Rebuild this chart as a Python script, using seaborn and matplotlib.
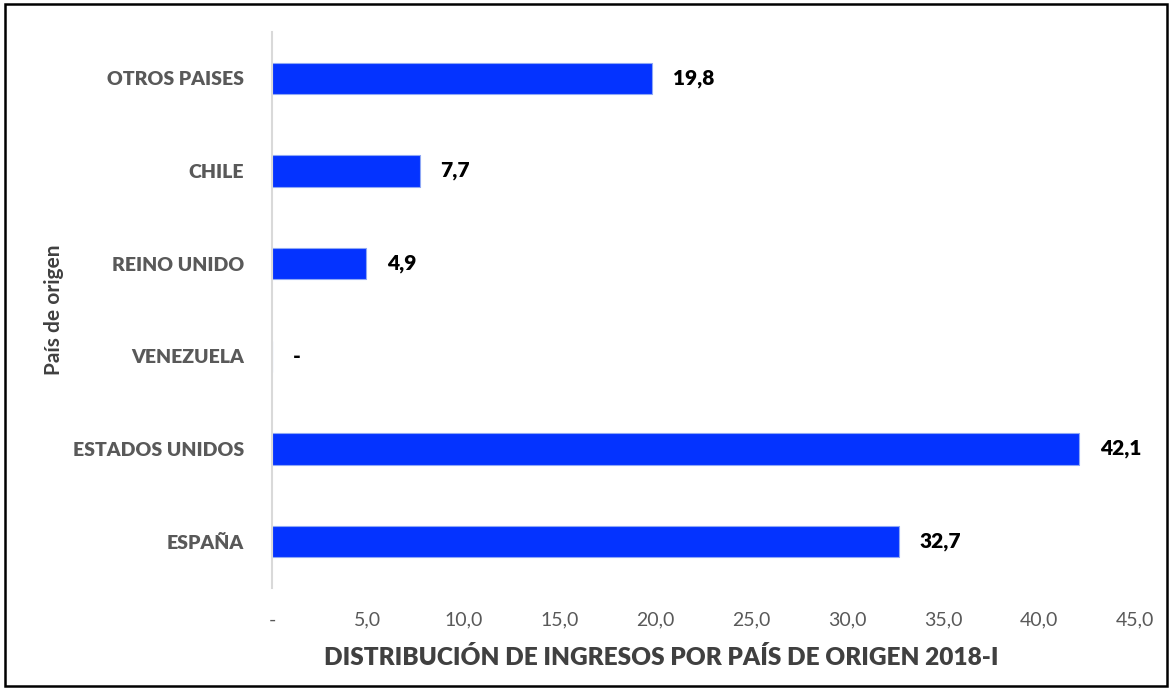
import matplotlib
matplotlib.use("Agg")
import matplotlib.pyplot as plt
import seaborn as sns
import pandas as pd
from matplotlib.patches import Rectangle

categories = ["OTROS PAISES", "CHILE", "REINO UNIDO", "VENEZUELA", "ESTADOS UNIDOS", "ESPAÑA"]
values = [19.8, 7.7, 4.9, 0.0, 42.1, 32.7]
xticks = [0, 5, 10, 15, 20, 25, 30, 35, 40, 45]

def fmt(v):
    return "-" if v == 0 else f"{v:.1f}".replace(".", ",")

sns.set_theme(style="white")
plt.rcParams["font.family"] = ["Lato", "DejaVu Sans"]

df = pd.DataFrame({"pais": categories, "valor": values})

fig = plt.figure(figsize=(11.72, 6.9), dpi=100)
ax = fig.add_axes([272 / 1172, 1 - 588 / 690, (1135 - 272) / 1172, (588 - 32) / 690])

sns.barplot(data=df, x="valor", y="pais", orient="h", color="#0433FF",
            saturation=1, width=0.34, edgecolor="#8FA8F5", linewidth=0.8, ax=ax)

ax.set_xlim(0, 45)
ax.set_ylim(5.5, -0.5)
ax.set_xticks(xticks)
ax.set_xticklabels([fmt(t) for t in xticks], color="#595959", fontsize=14)
ax.tick_params(axis="x", length=0, pad=17)
ax.tick_params(axis="y", length=0, pad=20)
for lbl in ax.get_yticklabels():
    lbl.set_fontweight("heavy")
    lbl.set_color("#595959")
    lbl.set_fontsize(14)

for s in ["top", "right", "bottom"]:
    ax.spines[s].set_visible(False)
ax.spines["left"].set_color("#D9D9D9")
ax.spines["left"].set_linewidth(1.5)

cont = ax.containers[0]
ax.bar_label(cont, labels=[fmt(v) for v in values], padding=15,
             fontsize=15, fontweight="heavy", color="black")

ax.set_xlabel("DISTRIBUCIÓN DE INGRESOS POR PAÍS DE ORIGEN 2018-I",
              fontsize=17.6, fontweight="heavy", color="#404040")
ax.xaxis.set_label_coords((661 - 272) / 863, -0.105)
ax.set_ylabel("País de origen", fontsize=15, fontweight="bold", color="#404040")
ax.yaxis.set_label_coords(-208 / 863, 0.5)

fig.patches.append(Rectangle((5 / 1172, 4 / 690), 1162 / 1172, 682 / 690,
                             transform=fig.transFigure, fill=False,
                             edgecolor="black", linewidth=1.8))

fig.savefig("out.png", dpi=100)
